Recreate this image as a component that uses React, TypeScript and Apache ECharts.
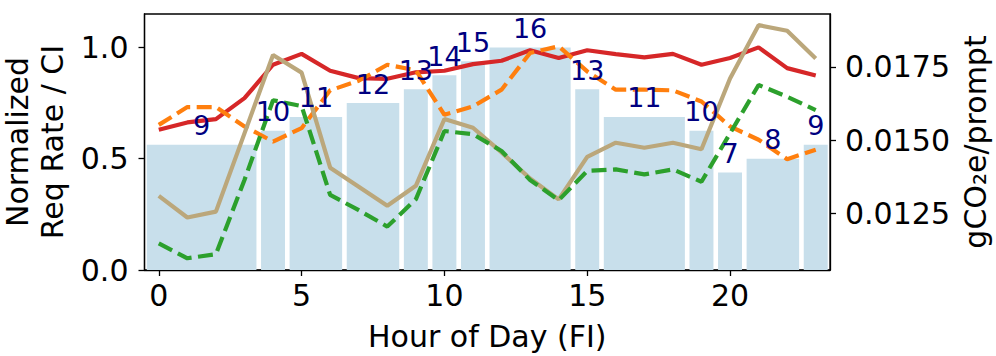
import React, { useEffect, useRef } from 'react';
import * as echarts from 'echarts';

const hours = [0, 1, 2, 3, 4, 5, 6, 7, 8, 9, 10, 11, 12, 13, 14, 15, 16, 17, 18, 19, 20, 21, 22, 23];
const reqRate = [0.63, 0.663, 0.678, 0.772, 0.922, 0.971, 0.895, 0.862, 0.859, 0.888, 0.895, 0.925, 0.94, 0.987, 0.952, 0.987, 0.97, 0.955, 0.971, 0.922, 0.952, 1.0, 0.907, 0.874];
const carbonIntensity = [0.652, 0.732, 0.732, 0.645, 0.577, 0.637, 0.807, 0.85, 0.922, 0.897, 0.697, 0.735, 0.81, 0.975, 1.005, 0.892, 0.81, 0.81, 0.807, 0.757, 0.645, 0.585, 0.498, 0.54];
const gco2Solid = [0.0131, 0.01236, 0.01256, 0.01523, 0.0179, 0.0173, 0.01406, 0.01341, 0.01276, 0.01344, 0.01572, 0.01542, 0.01458, 0.01369, 0.01298, 0.01443, 0.01491, 0.01474, 0.01491, 0.01469, 0.0171, 0.01892, 0.01873, 0.01778];
const gco2Dashed = [0.01148, 0.01097, 0.01111, 0.01364, 0.01636, 0.01616, 0.01313, 0.01261, 0.01205, 0.01298, 0.01531, 0.0152, 0.01463, 0.01364, 0.01295, 0.01395, 0.014, 0.01383, 0.014, 0.01358, 0.01523, 0.01688, 0.01648, 0.01602];
const segStart = [0, 4, 5, 7, 9, 10, 11, 12, 15, 16, 19, 20, 21, 23];
const segEnd = [3, 4, 6, 8, 9, 10, 11, 14, 15, 18, 19, 20, 22, 23];
const segCount = [9, 10, 11, 12, 13, 14, 15, 16, 13, 11, 10, 7, 8, 9];
const maxCount = 16;
const xTicks = [0, 5, 10, 15, 20];
const leftTicks = [0, 0.5, 1.0];
const rightTicks = [0.0125, 0.015, 0.0175];

const FONT = 'DejaVu Sans';

export default function App() {
  const ref = useRef<HTMLDivElement>(null);
  useEffect(() => {
    document.body.style.margin = '0';
    const chart = echarts.init(ref.current!, null, { renderer: 'svg' });
    const barData = segStart.map((s, i) => [s, segEnd[i], segCount[i] / maxCount]);
    const labelData = segStart.map((s, i) => [(s + segEnd[i]) / 2, segCount[i] / maxCount, segCount[i]]);
    const pair = (arr: number[]) => hours.map((h, i) => [h, arr[i]]);
    const option: any = {
      animation: false,
      grid: { left: 144.5, right: 166, top: 14, bottom: 86, show: true, borderColor: '#000', borderWidth: 1.3, backgroundColor: 'transparent', containLabel: false, outerBoundsMode: 'none' },
      xAxis: {
        type: 'value', min: -0.5, max: 23.5,
        name: 'Hour of Day (FI)', nameLocation: 'middle', nameGap: 51,
        nameTextStyle: { fontSize: 30, color: '#000', fontFamily: FONT },
        axisLine: { show: true, onZero: false, lineStyle: { color: '#000', width: 1.3 } },
        axisTick: { show: true, length: 6, lineStyle: { color: '#000', width: 1.3 }, customValues: xTicks },
        axisLabel: { fontSize: 30, color: '#000', fontFamily: FONT, margin: 10, customValues: xTicks, formatter: (v: number) => String(v) },
        splitLine: { show: false },
      },
      yAxis: [
        {
          type: 'value', min: 0, max: 1.15, position: 'left',
          name: 'Normalized\nReq Rate / CI', nameLocation: 'middle', nameGap: 67, nameRotate: 90,
          nameTextStyle: { fontSize: 30, color: '#000', fontFamily: FONT, lineHeight: 35 },
          axisLine: { show: true, onZero: false, lineStyle: { color: '#000', width: 1.3 } },
          axisTick: { show: true, length: 6, lineStyle: { color: '#000', width: 1.3 }, customValues: leftTicks },
          axisLabel: { fontSize: 30, color: '#000', fontFamily: FONT, margin: 16, customValues: leftTicks, formatter: (v: number) => v.toFixed(1) },
          splitLine: { show: false },
        },
        {
          type: 'value', min: 0.01057, max: 0.0193, position: 'right',
          name: 'gCO₂e/prompt', nameLocation: 'middle', nameGap: 129, nameRotate: 90,
          nameTextStyle: { fontSize: 30, color: '#000', fontFamily: FONT },
          axisLine: { show: true, onZero: false, lineStyle: { color: '#000', width: 1.3 } },
          axisTick: { show: true, length: 6, lineStyle: { color: '#000', width: 1.3 }, customValues: rightTicks },
          axisLabel: { fontSize: 30, color: '#000', fontFamily: FONT, margin: 15, customValues: rightTicks, formatter: (v: number) => v.toFixed(4) },
          splitLine: { show: false },
        },
      ],
      series: [
        {
          type: 'custom', z: 1, yAxisIndex: 0, data: barData, encode: { x: [0, 1], y: 2 },
          renderItem: (params: any, api: any) => {
            const p0 = api.coord([api.value(0) - 0.5, api.value(2)]);
            const p1 = api.coord([api.value(1) + 0.5, 0]);
            const inset = 2.3;
            return {
              type: 'rect',
              shape: { x: p0[0] + inset, y: p0[1], width: p1[0] - p0[0] - 2 * inset, height: p1[1] - p0[1] },
              style: { fill: '#c8dfeb' },
            };
          },
        },
        { type: 'line', z: 2, yAxisIndex: 0, data: pair(reqRate), symbol: 'none', lineStyle: { color: '#d62728', width: 4.2 } },
        { type: 'line', z: 2, yAxisIndex: 0, data: pair(carbonIntensity), symbol: 'none', lineStyle: { color: '#ff7f0e', width: 4.2, type: [15, 6.5] } },
        { type: 'line', z: 3, yAxisIndex: 1, data: pair(gco2Solid), symbol: 'none', lineStyle: { color: '#bba77b', width: 4.2 } },
        { type: 'line', z: 3, yAxisIndex: 1, data: pair(gco2Dashed), symbol: 'none', lineStyle: { color: '#2ca02c', width: 4.2, type: [15, 6.5] } },
        {
          type: 'custom', z: 5, yAxisIndex: 0, data: labelData, encode: { x: 0, y: 1 },
          renderItem: (params: any, api: any) => {
            const p = api.coord([api.value(0), api.value(1)]);
            return {
              type: 'text',
              x: p[0], y: p[1] - 19,
              style: { text: String(api.value(2)), fill: '#000080', font: '27px "DejaVu Sans"', align: 'center', verticalAlign: 'middle' },
            };
          },
        },
      ],
    };
    chart.setOption(option);
    return () => chart.dispose();
  }, []);
  return <div ref={ref} style={{ width: 996, height: 356 }} />;
}
